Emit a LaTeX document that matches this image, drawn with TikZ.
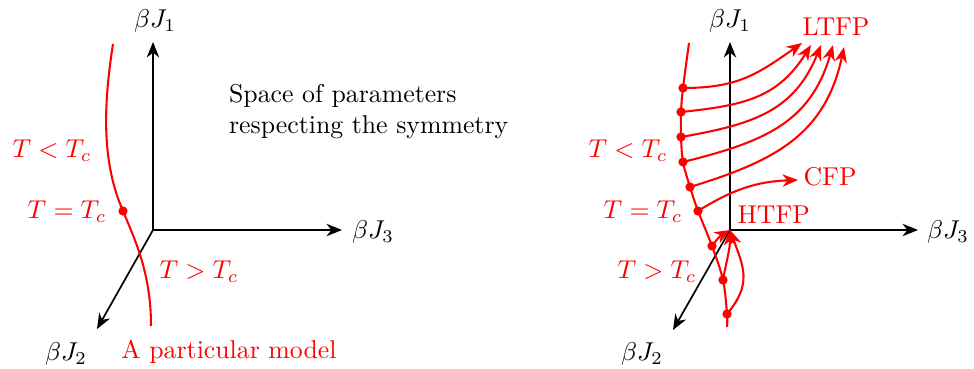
\documentclass[tikz,border=0pt]{standalone}
\usepackage{amsmath,amssymb}
\usepackage{xcolor}
\usepackage{tikz}
\usetikzlibrary{arrows.meta,positioning,calc}
\definecolor{rgRed}{HTML}{FF0000}

\begin{document}
\begin{tikzpicture}[x=0.01362cm,y=0.01362cm,>={Stealth[length=6pt,width=4.8pt,inset=1.9pt]},
  axis/.style={->,line width=0.65pt},
  model/.style={rgRed,line width=0.8pt},
  flow/.style={->,rgRed,line width=0.8pt},
  ptlabel/.style={rgRed}]
\useasboundingbox (0,0) rectangle (974,368);
% left: a single model in parameter space
\coordinate (oL) at (153,138);
\coordinate (j1L) at (153,326);
\coordinate (j3L) at (342,138);
\coordinate (j2L) at (97,39);
\draw[axis] (oL)--(j1L);\draw[axis] (oL)--(j3L);\draw[axis] (oL)--(j2L);
\node (lj1L) at (155,347) {$\beta J_1$};
\node (lj3L) at (373,136) {$\beta J_3$};
\node (lj2L) at (66,14) {$\beta J_2$};
\coordinate (mTopL) at (113,324);
\coordinate (mcL) at (123,157);
\coordinate (mBotL) at (151,42);
\draw[model] (mTopL) .. controls (103,260) and (102,205) .. (mcL)
  .. controls (135,128) and (151,95) .. (mBotL);
\fill[rgRed] (mcL) circle (1.8pt);
\node[ptlabel] (ltL) at (52,217) {$T<T_c$};
\node[ptlabel] (leL) at (67,156) {$T=T_c$};
\node[ptlabel] (lgL) at (199,96) {$T>T_c$};
\node[ptlabel] (model) at (229,16) {A particular model};
\node[anchor=west,align=left] (space) at (220,256) {Space of parameters\\respecting the symmetry};
% right: RG flows
\coordinate (oR) at (730,138);
\coordinate (j1R) at (730,326);
\coordinate (j3R) at (918,138);
\coordinate (j2R) at (673,38);
\draw[axis] (oR)--(j1R);\draw[axis] (oR)--(j3R);\draw[axis] (oR)--(j2R);
\node (lj1R) at (730,347) {$\beta J_1$};
\node (lj3R) at (948,136) {$\beta J_3$};
\node (lj2R) at (642,14) {$\beta J_2$};
\coordinate (top) at (689,325);
\coordinate (d1) at (683,280);
\coordinate (d2) at (681,256);
\coordinate (d3) at (681,231);
\coordinate (d4) at (683,206);
\coordinate (d5) at (690,181);
\coordinate (d6) at (698,157);
\coordinate (d7) at (712,122);
\coordinate (d8) at (723,88);
\coordinate (d9) at (727,54);
\coordinate (bot) at (727,41);
\draw[model] plot[smooth,tension=0.55] coordinates {(top) (d1) (d2) (d3) (d4) (d5) (d6) (d7) (d8) (d9) (bot)};
\coordinate (t1) at (802,325);
\coordinate (t2) at (811,323);
\coordinate (t3) at (821,323);
\coordinate (t4) at (833,323);
\coordinate (t5) at (844,321);
\coordinate (cfp) at (798,188);
\draw[flow] (d1) to[out=0,in=-145,looseness=1.1] (t1);
\draw[flow] (d2) to[out=6,in=-122,looseness=1.1] (t2);
\draw[flow] (d3) to[out=10,in=-112,looseness=1.1] (t3);
\draw[flow] (d4) to[out=14,in=-106,looseness=1.1] (t4);
\draw[flow] (d5) to[out=17,in=-102,looseness=1.1] (t5);
\draw[flow] (d6) to[out=32,in=182] (cfp);
\draw[flow] (d7) to[out=55,in=-150] (oR);
\draw[flow] (d8) to[out=80,in=-90] (oR);
\draw[flow] (d9) to[out=50,in=-70,looseness=1.2] (oR);
\foreach \d in {d1,d2,d3,d4,d5,d6,d7,d8,d9}
  \fill[rgRed] (\d) circle (1.8pt);
\node[ptlabel,anchor=west,inner sep=0pt] (ltfp) at (802,341) {LTFP};
\node[ptlabel,anchor=west,inner sep=0pt] (cfpl) at (803,191) {CFP};
\node[ptlabel,anchor=west,inner sep=0pt] (htfp) at (737,153) {HTFP};
\node[ptlabel] (ltR) at (628,217) {$T<T_c$};
\node[ptlabel] (leR) at (643,156) {$T=T_c$};
\node[ptlabel] (lgR) at (657,96) {$T>T_c$};
\end{tikzpicture}
\end{document}
